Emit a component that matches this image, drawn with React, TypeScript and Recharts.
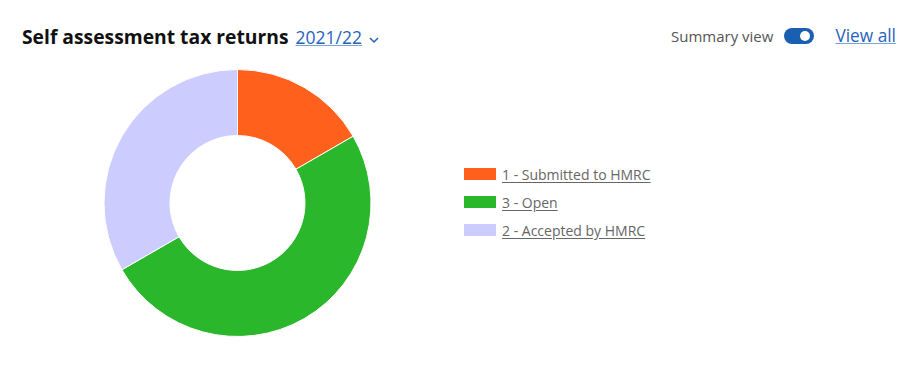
import React from 'react'
import { PieChart, Pie, Cell, Legend } from 'recharts'

const statusLabels = ['1 - Submitted to HMRC', '3 - Open', '2 - Accepted by HMRC']
const statusCounts = [1, 3, 2]
const statusColors = ['#ff601c', '#2bb72c', '#ccccff']

const chartData = statusLabels.map((name, i) => ({
  name,
  value: statusCounts[i],
  color: statusColors[i],
}))

const FONT = '"Open Sans", "Noto Sans", sans-serif'

// keep the data order (recharts sorts legend payload by default)
function StatusLegend() {
  return (
    <div>
      {chartData.map((entry, index) => (
        <div key={index} style={{ display: 'flex', alignItems: 'center', height: 28 }}>
          <span
            style={{ display: 'inline-block', width: 32, height: 12, backgroundColor: entry.color, marginRight: 6 }}
          />
          <span style={{ fontSize: 14, color: '#666', textDecoration: 'underline', textUnderlineOffset: 2 }}>
            {entry.name}
          </span>
        </div>
      ))}
    </div>
  )
}

function Header() {
  return (
    <>
      <div style={{ position: 'absolute', left: 22, top: 23, display: 'flex', alignItems: 'baseline' }}>
        <span style={{ fontSize: 19.3, fontWeight: 700, color: '#111' }}>Self assessment tax returns</span>
        <span style={{ fontSize: 17.5, color: '#1f63bd', textDecoration: 'underline', marginLeft: 7, textDecorationColor: '#7aa4dc' }}>
          2021/22
        </span>
        <svg width="12" height="8" viewBox="0 0 12 8" style={{ marginLeft: 6 }}>
          <polyline points="2,2 6,6 10,2" fill="none" stroke="#1f63bd" strokeWidth="1.5" />
        </svg>
      </div>
      <div style={{ position: 'absolute', left: 671, top: 24, display: 'flex', alignItems: 'center' }}>
        <span style={{ fontSize: 15, color: '#555' }}>Summary view</span>
        <span
          style={{
            position: 'relative',
            display: 'inline-block',
            width: 30,
            height: 16,
            borderRadius: 8,
            backgroundColor: '#1b5fb3',
            marginLeft: 11,
          }}
        >
          <span
            style={{
              position: 'absolute',
              right: 4,
              top: 3,
              width: 10,
              height: 10,
              borderRadius: 5,
              backgroundColor: '#fff',
            }}
          />
        </span>
        <span style={{ fontSize: 17.3, color: '#1f63bd', textDecoration: 'underline', marginLeft: 21, textDecorationColor: '#7aa4dc' }}>
          View all
        </span>
      </div>
    </>
  )
}

export default function App() {
  return (
    <div style={{ position: 'absolute', left: 0, top: 0, width: 919, height: 367, background: '#fff', fontFamily: FONT }}>
      <Header />
      <PieChart
        width={919}
        height={367}
        margin={{ top: 0, right: 0, bottom: 0, left: 0 }}
        style={{ position: 'absolute', left: 0, top: 0 }}
      >
        <Pie
          data={chartData}
          dataKey="value"
          nameKey="name"
          cx={237.5}
          cy={203}
          innerRadius={67.5}
          outerRadius={133.5}
          startAngle={90}
          endAngle={-270}
          stroke="#fff"
          strokeWidth={1}
          isAnimationActive={false}
        >
          {chartData.map((d, i) => (
            <Cell key={i} fill={d.color} />
          ))}
        </Pie>
        <Legend
          layout="vertical"
          content={<StatusLegend />}
          wrapperStyle={{ left: 464, top: 160, width: 250 }}
        />
      </PieChart>
    </div>
  )
}
